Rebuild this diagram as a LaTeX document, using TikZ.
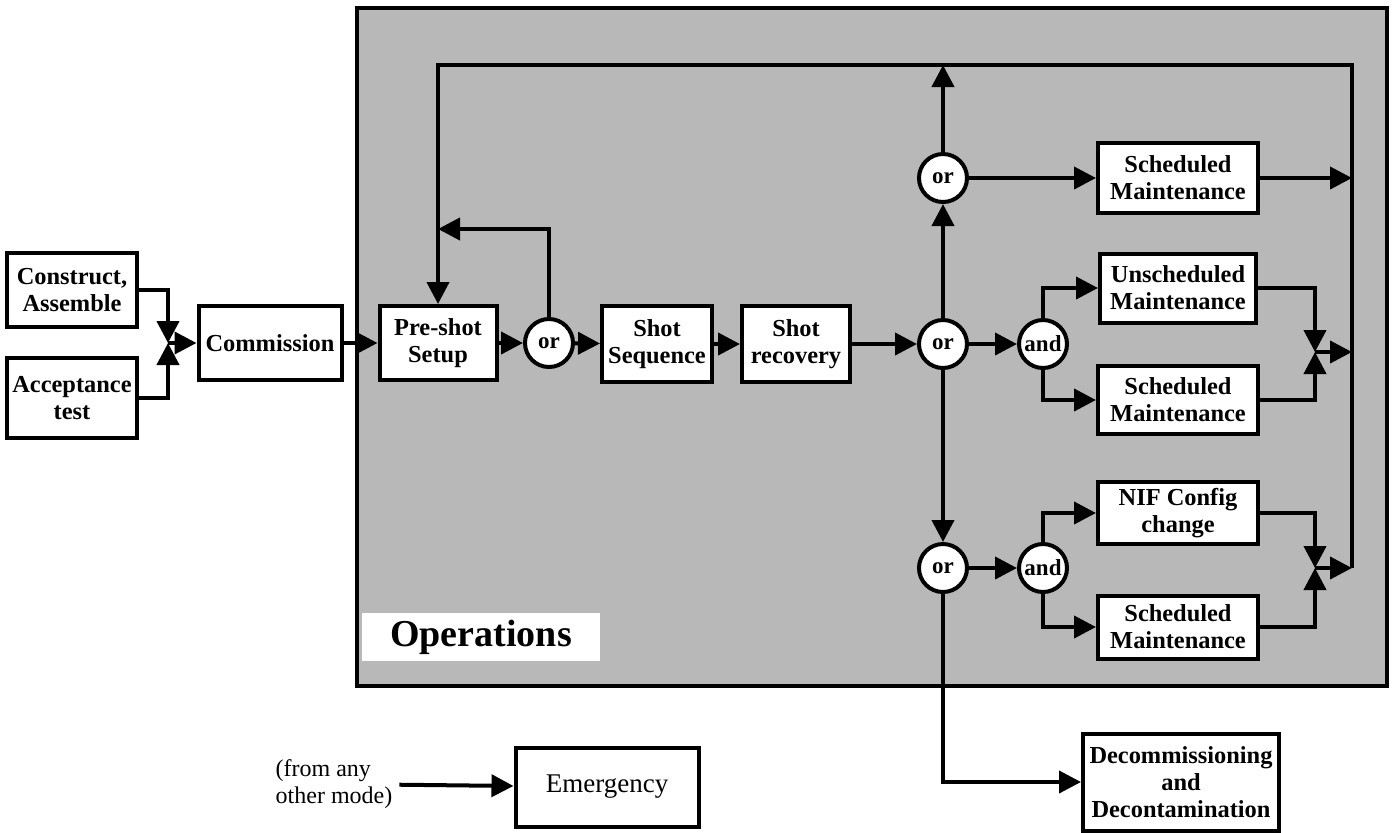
\documentclass[tikz,border=0pt]{standalone}
\usepackage{fontspec}
\setmainfont{Liberation Serif}
\usetikzlibrary{positioning,shapes,arrows.meta}

\begin{document}
\begin{tikzpicture}[x=0.5pt,y=-0.5pt,
  box/.style={draw,shape=rectangle,fill=white,line width=2pt,align=center,inner sep=1pt,
    font=\bfseries\fontsize{12.2}{13.5}\selectfont},
  plainbox/.style={box,font=\fontsize{13.5}{15}\selectfont},
  gate/.style={draw,shape=circle,fill=white,line width=2pt,minimum size=24pt,inner sep=0pt,
    font=\bfseries\fontsize{11.5}{13.5}\selectfont},
  arr/.style={line width=2pt,-{Triangle[length=11pt,width=11pt]}}]
\useasboundingbox (0,0) rectangle (1394,832);

%\draw node at (470,40) {Operations area};
\draw[line width=2pt,fill=black!28] (357,8) rectangle (1387,686);
\draw node (ops) at (481,637) [fill=white,minimum width=119pt,minimum height=24pt,
  font=\bfseries\fontsize{19}{22}\selectfont]{Operations};

\draw node (cons) at (72,290) [box,minimum width=65pt,minimum height=37pt]{Construct,\\Assemble};
\draw node (acc) at (72,398) [box,minimum width=65pt,minimum height=40pt]{Acceptance\\test};
\draw node (comm) at (270,343) [box,minimum width=71.5pt,minimum height=37pt]{Commission};
\draw node (pre) at (438,343) [box,minimum width=58.5pt,minimum height=37pt]{Pre-shot\\Setup};
\draw node (or1) at (549,343) [gate]{or};
\draw node (seq) at (657,344) [box,minimum width=55pt,minimum height=38pt]{Shot\\Sequence};
\draw node (rec) at (796,344) [box,minimum width=54pt,minimum height=38pt]{Shot\\recovery};
\draw node (orm) at (943,344) [gate]{or};
\draw node (ort) at (943,178) [gate]{or};
\draw node (orb) at (943,568) [gate]{or};
\draw node (and1) at (1043,344) [gate]{and};
\draw node (and2) at (1043,568) [gate]{and};
\draw node (sm1) at (1178,178) [box,minimum width=80pt,minimum height=35pt]{Scheduled\\Maintenance};
\draw node (usm) at (1178,288) [box,minimum width=78pt,minimum height=34.5pt]{Unscheduled\\Maintenance};
\draw node (sm2) at (1178,400) [box,minimum width=80pt,minimum height=34pt]{Scheduled\\Maintenance};
\draw node (nif) at (1178,513) [box,minimum width=80pt,minimum height=31pt]{NIF Config\\change};
\draw node (sm3) at (1178,627) [box,minimum width=80pt,minimum height=31.5pt]{Scheduled\\Maintenance};
\draw node (dec) at (1181,782) [box,minimum width=98pt,minimum height=48.5pt]{Decommissioning\\and\\Decontamination};
\draw node (em) at (607,787) [plainbox,minimum width=91.5pt,minimum height=39.5pt]{Emergency};
\draw node (any) at (334,784) [align=left,font=\fontsize{12}{13.5}\selectfont]{(from any\\other mode)};

\coordinate (jA) at (168,343);
\coordinate (jB) at (1315,352);
\coordinate (jC) at (1315,568);
\coordinate (rA) at (1352,178);
\coordinate (rB) at (1352,352);
\coordinate (rC) at (1352,568);
\coordinate (tl) at (438,65);
\coordinate (tm) at (943,65);
\coordinate (tr) at (1352,65);
\coordinate (fb) at (438,229);

\draw[arr] (cons.east) -| (jA);
\draw[arr] (acc.east) -| (jA);
\draw[arr] (jA) -- (comm);
\draw[arr] (comm) -- (pre);
\draw[arr] (pre) -- (or1);
\draw[arr] (or1) -- (seq);
\draw[arr] (seq) -- (rec);
\draw[arr] (rec) -- (orm);
\draw[arr] (or1.north) |- (fb);
\draw[arr] (rC) -- (tr) -- (tl) -- (pre);
\draw[arr] (ort) -- (tm);
\draw[arr] (orm) -- (ort);
\draw[arr] (orm) -- (orb);
\draw[arr] (orm) -- (and1);
\draw[arr] (ort) -- (sm1);
\draw[arr] (sm1) -- (rA);
\draw[arr] (and1.north) |- (usm.west);
\draw[arr] (and1.south) |- (sm2.west);
\draw[arr] (usm.east) -| (jB);
\draw[arr] (sm2.east) -| (jB);
\draw[arr] (jB) -- (rB);
\draw[arr] (orb) -- (and2);
\draw[arr] (and2.north) |- (nif.west);
\draw[arr] (and2.south) |- (sm3.west);
\draw[arr] (nif.east) -| (jC);
\draw[arr] (sm3.east) -| (jC);
\draw[arr] (jC) -- (rC);
\draw[arr] (orb.south) |- (dec.west);
\draw[arr] (any) -- (em);
\end{tikzpicture}
\end{document}
